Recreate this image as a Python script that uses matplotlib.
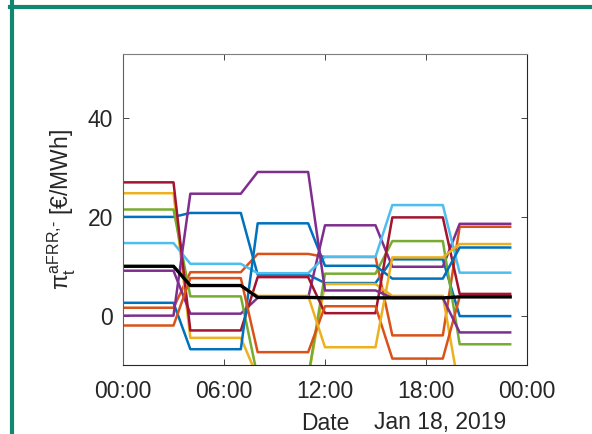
import numpy as np
import matplotlib.pyplot as plt
from matplotlib.lines import Line2D

plt.rcParams['font.family'] = ['Liberation Sans', 'DejaVu Sans']
plt.rcParams['mathtext.fontset'] = 'custom'
plt.rcParams['mathtext.rm'] = 'Liberation Sans'
plt.rcParams['mathtext.it'] = 'Liberation Sans'

# hourly time steps, prices are constant within 4h product blocks
hours = np.arange(24)
block_len = 4

# block values [EUR/MWh], 6 blocks per day
blue_a = [20.0, 20.8, 8.3, 6.6, 11.4, -0.1]
orange_a = [1.6, 8.8, 12.5, 11.9, -4.0, 18.0]
yellow_a = [24.8, -4.5, -12.5, 6.4, 4.0, -15.5]
purple_a = [9.1, 0.4, 3.6, 18.3, 9.9, 18.6]
green = [21.5, 3.9, -12.5, 8.5, 15.1, -5.8]
lightblue = [14.7, 10.5, 8.6, 11.9, 22.4, 8.7]
red = [27.0, -3.0, 7.8, 0.5, 19.9, 4.4]
blue_b = [2.6, -6.8, 18.7, 10.1, 7.5, 13.8]
orange_b = [-2.0, 7.6, -7.4, 1.9, -8.7, 3.8]
yellow_b = [10.0, 6.1, 4.0, -6.4, 11.8, 14.5]
purple_b = [0.0, 24.7, 29.1, 5.1, 3.6, -3.4]
actual = [10.0, 6.1, 3.7, 3.6, 3.6, 3.8]

series = [blue_a, orange_a, yellow_a, purple_a, green, lightblue, red,
          blue_b, orange_b, yellow_b, purple_b]
colors = ['#0072BD', '#D95319', '#EDB120', '#7E2F8E', '#77AC30', '#4DBEEE',
          '#A2142F', '#0072BD', '#D95319', '#EDB120', '#7E2F8E']

xticks = [0, 6, 12, 18, 24]
xticklabels = ['00:00', '06:00', '12:00', '18:00', '00:00']
yticks = [0, 20, 40]

W, H = 592, 434
fig = plt.figure(figsize=(W / 100, H / 100), dpi=100)
ax = fig.add_axes([123 / W, 1 - 365 / H, (527 - 123) / W, (365 - 54) / H])

for s, c in zip(series, colors):
    ax.plot(hours, np.repeat(s, block_len), color=c, lw=1.8)
ax.plot(hours, np.repeat(actual, block_len), color='k', lw=2.4)

ax.set_xlim(0, 24)
ax.set_ylim(-10, 53)
ax.set_xticks(xticks)
ax.set_xticklabels(xticklabels)
ax.set_yticks(yticks)

tc = '#262626'
for sp in ax.spines.values():
    sp.set_color(tc)
    sp.set_linewidth(0.8)
ax.spines['top'].set_color('#7f7f7f')
ax.spines['left'].set_color('#5f5f5f')
ax.tick_params(direction='in', length=4, width=0.6, color=tc, labelcolor=tc,
               labelsize=16.5, top=True, right=True)
ax.tick_params(axis='x', pad=11)
ax.tick_params(axis='y', pad=7)

ax.set_ylabel(r'$\pi_\mathrm{t}^{\text{aFRR,-}}$ [€/MWh]', fontsize=16.5,
              color=tc, labelpad=7)
fig.text(325 / W, 1 - 423 / H, 'Date', fontsize=16.5, color=tc,
         ha='center', va='center')
fig.text(506 / W, 1 - 423 / H, 'Jan 18, 2019', fontsize=16.5, color=tc,
         ha='right', va='center')

# teal frame of the panel
teal = '#11876f'
fig.add_artist(Line2D([11.5 / W, 11.5 / W], [0, 1], color=teal, lw=3,
                      transform=fig.transFigure))
fig.add_artist(Line2D([10 / W, 1], [1 - 6.5 / H, 1 - 6.5 / H], color=teal, lw=3,
                      transform=fig.transFigure))

fig.savefig('out.png', dpi=100)
